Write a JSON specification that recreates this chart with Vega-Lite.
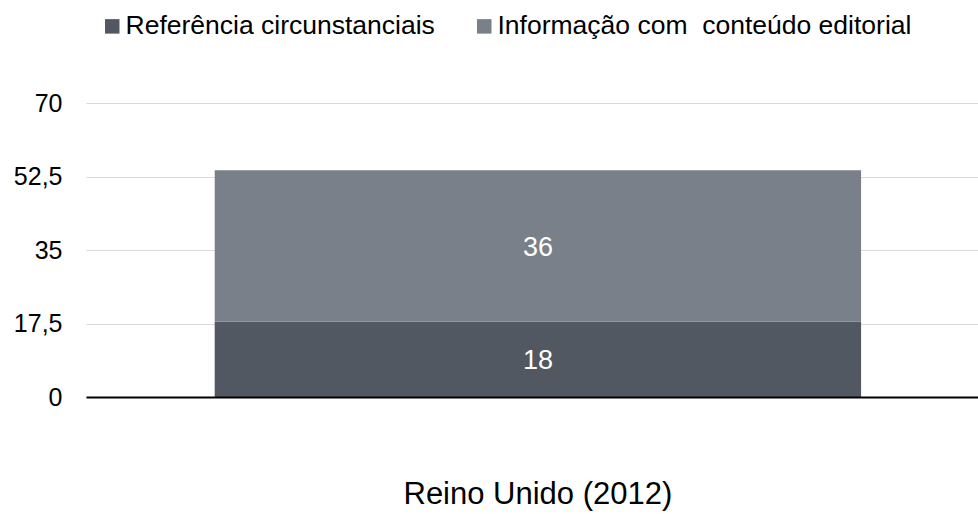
{
  "$schema": "https://vega.github.io/schema/vega-lite/v6.json",
  "width": 892,
  "height": 294,
  "autosize": {"type": "none"},
  "padding": {"left": 86, "top": 103, "right": 0, "bottom": 117},
  "background": "white",
  "config": {"view": {"stroke": null}, "font": "Liberation Sans"},
  "data": {
    "values": [
      {"pais": "Reino Unido (2012)", "serie": "Referência circunstanciais", "ordem": 1, "valor": 18},
      {"pais": "Reino Unido (2012)", "serie": "Informação com\u00a0 conteúdo editorial", "ordem": 2, "valor": 36}
    ]
  },
  "transform": [
    {"stack": "valor", "groupby": ["pais"], "sort": [{"field": "ordem", "order": "ascending"}], "as": ["v0", "v1"]}
  ],
  "encoding": {
    "x": {
      "field": "pais",
      "type": "nominal",
      "scale": {"paddingInner": 0, "paddingOuter": 0.19, "align": 0.524},
      "axis": {
        "title": null,
        "labelAngle": 0,
        "labelFontSize": 31,
        "labelColor": "black",
        "labelPadding": 82,
        "labelLimit": 600,
        "ticks": false,
        "domainColor": "black",
        "domainWidth": 2,
        "grid": false,
        "zindex": 1
      }
    },
    "y": {
      "type": "quantitative",
      "scale": {"domain": [0, 70]},
      "axis": {
        "title": null,
        "values": [0, 17.5, 35, 52.5, 70],
        "labelExpr": "replace(toString(datum.value), '.', ',')",
        "labelFontSize": 25,
        "labelColor": "black",
        "labelPadding": 24,
        "domain": false,
        "ticks": false,
        "gridColor": "#d9d9d9",
        "gridWidth": 1
      }
    }
  },
  "layer": [
    {
      "mark": {"type": "bar"},
      "encoding": {
        "y": {"field": "v1", "type": "quantitative"},
        "y2": {"field": "v0"},
        "color": {
          "field": "serie",
          "type": "nominal",
          "scale": {
            "domain": ["Referência circunstanciais", "Informação com\u00a0 conteúdo editorial"],
            "range": ["#525861", "#7a808a"]
          },
          "legend": {
            "title": null,
            "orient": "none",
            "direction": "horizontal",
            "legendX": 13,
            "legendY": -90,
            "symbolType": "square",
            "symbolSize": 210,
            "symbolStrokeWidth": 0,
            "symbolOpacity": 1,
            "labelFontSize": 26.5,
            "labelColor": "black",
            "labelOffset": 0,
            "columnPadding": 36,
            "labelLimit": 600
          }
        }
      }
    },
    {
      "transform": [{"fold": ["v0", "v1"], "as": ["k", "pos"]}],
      "mark": {"type": "text", "color": "white", "fontSize": 27, "baseline": "middle", "dy": 2},
      "encoding": {
        "y": {"aggregate": "mean", "field": "pos", "type": "quantitative"},
        "text": {"aggregate": "max", "field": "valor", "type": "quantitative"},
        "detail": {"field": "serie"}
      }
    }
  ]
}
